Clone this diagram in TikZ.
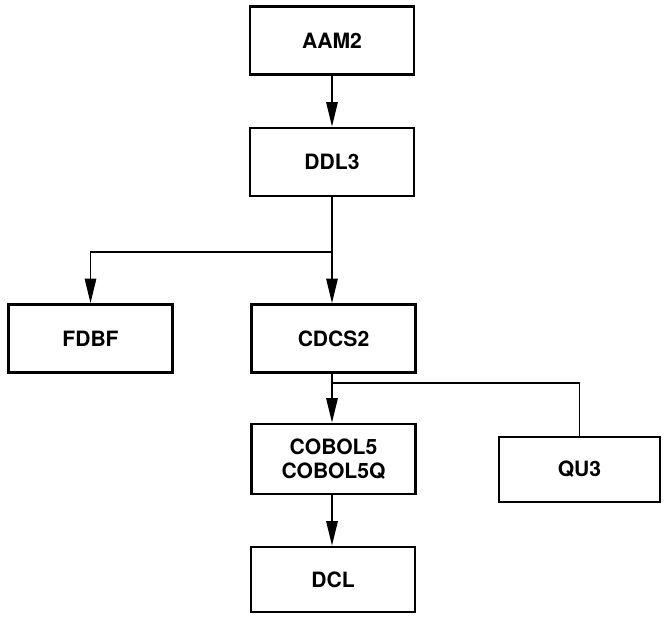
\documentclass[tikz,border=0pt]{standalone}
\usepackage{fontspec}
\setmainfont{TeX Gyre Heros}
\usepackage{tikz}
\usetikzlibrary{arrows.meta}

\begin{document}
\begin{tikzpicture}[>={Triangle[length=14pt,width=6.5pt]},
	box/.style={draw, line width=1.5pt, minimum width=3.28cm, minimum height=1.36cm, align=center,
		font=\fontsize{12}{13.5}\selectfont\bfseries},
	link/.style={line width=1pt}]
	  			\useasboundingbox (0,0) rectangle (13.4,12.48);

	  			\node[box] (aam) at (6.64,11.67) {AAM2};
	  			\node[box] (ddl) at (6.64,9.24) {DDL3};
	  			\node[box] (fdbf) at (1.81,5.71) {FDBF};
	  			\node[box] (cdcs) at (6.67,5.71) {CDCS2};
	  			\node[box, minimum height=1.4cm] (cobol) at (6.67,3.30) {COBOL5\\COBOL5Q};
	  			\node[box, minimum width=3.22cm, minimum height=1.30cm] (qu) at (11.59,3.09) {QU3};
	  			\node[box, minimum height=1.30cm] (dcl) at (6.66,0.89) {DCL};

	  			\coordinate (split1) at (6.64,7.44);
	  			\coordinate (split2) at (6.64,4.82);

	  			\draw[->, link] (aam) -- (ddl);
	  			\draw[link] (ddl) -- (split1);
	  			\draw[->, link] (split1) -| (fdbf);
	  			\draw[->, link] (split1) -- (split1 |- cdcs.north);

	  			\draw[link] (cdcs.south -| split2) -- (split2);
	  			\draw[->, link] (split2) -- (split2 |- cobol.north);
	  			\draw[link] (split2) -| (qu);
	  			\draw[->, link] (cobol.south -| split2) -- (split2 |- dcl.north);
	  		\end{tikzpicture}
\end{document}
